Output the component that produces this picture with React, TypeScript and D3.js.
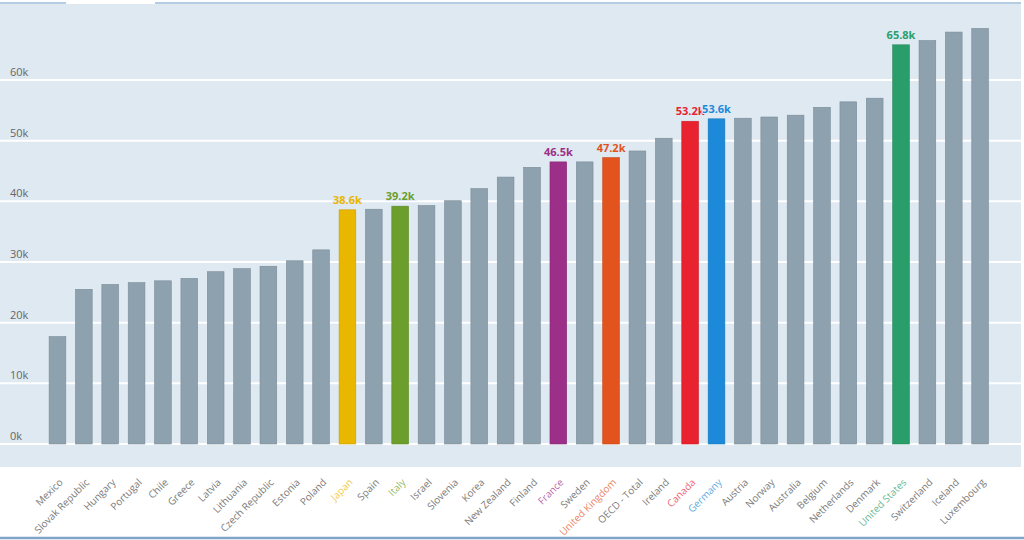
import React from "react";
import * as d3 from "d3";

const countries = [
  "Mexico", "Slovak Republic", "Hungary", "Portugal", "Chile", "Greece", "Latvia", "Lithuania",
  "Czech Republic", "Estonia", "Poland", "Japan", "Spain", "Italy", "Israel", "Slovenia", "Korea",
  "New Zealand", "Finland", "France", "Sweden", "United Kingdom", "OECD - Total", "Ireland",
  "Canada", "Germany", "Austria", "Norway", "Australia", "Belgium", "Netherlands", "Denmark",
  "United States", "Switzerland", "Iceland", "Luxembourg",
];

const values = [
  17700, 25500, 26300, 26600, 26900, 27300, 28400, 28900,
  29300, 30200, 32000, 38600, 38700, 39200, 39300, 40100, 42100,
  44000, 45600, 46500, 46500, 47200, 48300, 50400,
  53200, 53600, 53700, 53900, 54200, 55500, 56400, 57000,
  65800, 66500, 67900, 68500,
];

const highlightNames = ["Japan", "Italy", "France", "United Kingdom", "Canada", "Germany", "United States"];
const highlightColors = ["#e9b600", "#6b9e2c", "#9c2f88", "#e2531e", "#e8222e", "#1c8ad9", "#2a9e6a"];

const yTicks = [0, 10000, 20000, 30000, 40000, 50000, 60000];

const W = 1024;
const H = 540;
const FONT = "'Open Sans', 'Noto Sans', sans-serif";
const GREY_BAR = "#8ea1af";
const BG = "#dfe9f2";

export default function App() {
  const x = d3.scaleBand<string>().domain(countries).range([44.3, 993.3]).paddingInner(0.366).paddingOuter(0.183);
  const y = d3.scaleLinear().domain([0, 60000]).range([444, 80]);
  const colorOf = (name: string) => {
    const i = highlightNames.indexOf(name);
    return i >= 0 ? highlightColors[i] : GREY_BAR;
  };
  const data = countries.map((c, i) => ({ name: c, value: values[i] }));

  return (
    <svg width={W} height={H} style={{ position: "absolute", left: 0, top: 0, background: "#fff" }} fontFamily={FONT}>
      <rect x={0} y={4} width={1021} height={463} fill={BG} />
      <line x1={0} x2={66} y1={3} y2={3} stroke="#9dbcd8" strokeWidth={1.5} />
      <line x1={155} x2={1021} y1={3} y2={3} stroke="#9dbcd8" strokeWidth={1.5} />
      <line x1={0} x2={W} y1={538} y2={538} stroke="#7fa5c8" strokeWidth={2.5} />

      {yTicks.map((t) => (
        <g key={t}>
          <line x1={0} x2={1021} y1={y(t)} y2={y(t)} stroke="#ffffff" strokeWidth={2} />
          <text x={10} y={y(t) - 4} fontSize={11} fill="#666">
            {d3.format("d")(t / 1000) + "k"}
          </text>
        </g>
      ))}

      {data.map((d) => (
        <rect
          key={d.name}
          x={x(d.name)!}
          y={y(d.value)}
          width={x.bandwidth()}
          height={y(0) - y(d.value)}
          fill={colorOf(d.name)}
          stroke={d3.color(colorOf(d.name))!.darker(0.4).toString()}
          strokeWidth={0.6}
        />
      ))}

      {data
        .filter((d) => highlightNames.includes(d.name))
        .map((d) => (
          <text
            key={"v" + d.name}
            x={x(d.name)! + x.bandwidth() / 2}
            y={y(d.value) - 6}
            textAnchor="middle"
            fontSize={11}
            fontWeight="bold"
            fill={colorOf(d.name)}
            stroke={BG}
            strokeWidth={2}
            paintOrder="stroke"
          >
            {(d.value / 1000).toFixed(1) + "k"}
          </text>
        ))}

      {data.map((d) => {
        const cx = x(d.name)! + x.bandwidth() / 2 + 6;
        const cy = 483;
        const hl = highlightNames.includes(d.name);
        return (
          <text
            key={"l" + d.name}
            transform={`translate(${cx},${cy}) rotate(-45)`}
            textAnchor="end"
            fontSize={10}
            fill={hl ? colorOf(d.name) : "#7a7a7a"}
            fillOpacity={hl ? 0.75 : 1}
          >
            {d.name}
          </text>
        );
      })}
    </svg>
  );
}
